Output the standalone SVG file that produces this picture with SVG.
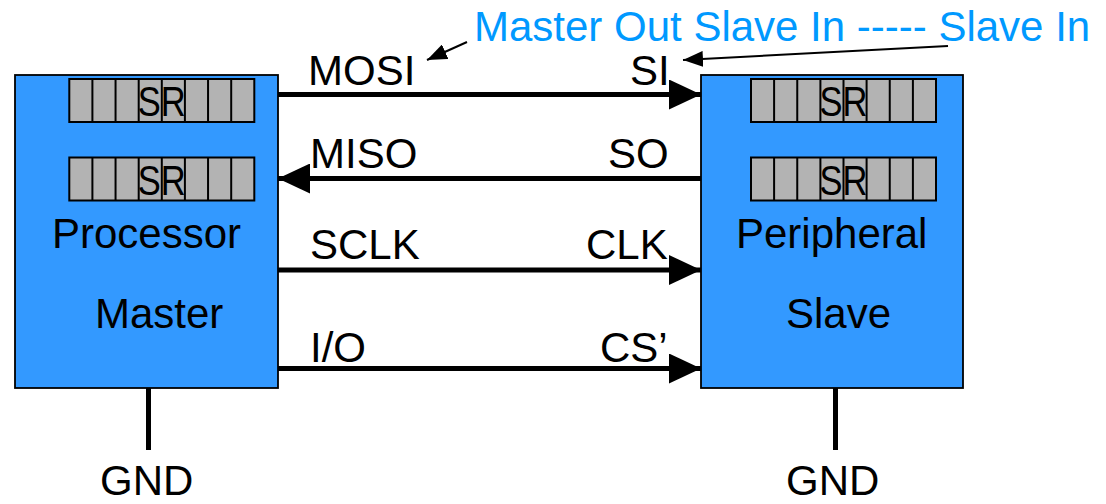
<svg xmlns="http://www.w3.org/2000/svg" xmlns:xlink="http://www.w3.org/1999/xlink" width="1106" height="504" viewBox="0 0 1106 504">
  <style>
    .box { fill: #3399FF; stroke: #000; stroke-width: 1.8; }
    .cell { fill: #B3B3B3; stroke: #000; stroke-width: 2; }
    .div { stroke: #000; stroke-width: 2; }
    .lbl { font-family: "Liberation Sans", Arial, sans-serif; font-size: 42px; fill: #000; }
    .note { font-family: "Liberation Sans", Arial, sans-serif; font-size: 42px; fill: #0099FF; }
    .sr { font-family: "Liberation Sans", Arial, sans-serif; font-size: 42px; fill: #000; }
    .wire { stroke: #000; stroke-width: 5; fill: none; }
    .ptr { stroke: #000; stroke-width: 2; fill: none; }
  </style>
  <defs>
    <marker id="head" markerUnits="userSpaceOnUse" markerWidth="32" markerHeight="30" viewBox="0 0 32 30" refX="32" refY="15" orient="auto">
      <path d="M0,0 L32,15 L0,30 Z" fill="#000"/>
    </marker>
    <marker id="small-head" markerUnits="userSpaceOnUse" markerWidth="20" markerHeight="16" viewBox="0 0 20 16" refX="20" refY="8" orient="auto">
      <path d="M0,0 L20,8 L0,16 Z" fill="#000"/>
    </marker>
    <!-- 8-bit shift register: 185 x 43, eight cells -->
    <g id="sr-reg">
      <rect class="cell" x="0" y="0" width="185" height="43"/>
      <line class="div" x1="23.1" y1="0" x2="23.1" y2="43"/>
      <line class="div" x1="46.25" y1="0" x2="46.25" y2="43"/>
      <line class="div" x1="69.4" y1="0" x2="69.4" y2="43"/>
      <line class="div" x1="92.5" y1="0" x2="92.5" y2="43"/>
      <line class="div" x1="115.6" y1="0" x2="115.6" y2="43"/>
      <line class="div" x1="138.75" y1="0" x2="138.75" y2="43"/>
      <line class="div" x1="161.9" y1="0" x2="161.9" y2="43"/>
      <text class="sr" x="68.5" y="37" textLength="48" lengthAdjust="spacingAndGlyphs">SR</text>
    </g>
  </defs>

  <!-- Master side -->
  <g id="processor">
    <rect class="box" x="15" y="75" width="263" height="313"/>
    <use xlink:href="#sr-reg" x="69.3" y="79"/>
    <use xlink:href="#sr-reg" x="69.3" y="157.5"/>
    <text class="lbl" x="52" y="248">Processor</text>
    <text class="lbl" x="95" y="328">Master</text>
  </g>

  <!-- Slave side -->
  <g id="peripheral">
    <rect class="box" x="701" y="75" width="262" height="313"/>
    <use xlink:href="#sr-reg" x="751" y="79"/>
    <use xlink:href="#sr-reg" x="751" y="157.5"/>
    <text class="lbl" x="736" y="248">Peripheral</text>
    <text class="lbl" x="786" y="328">Slave</text>
  </g>

  <!-- Ground labels -->
  <g id="gnd-master">
    <text class="lbl" x="100" y="495">GND</text>
  </g>
  <g id="gnd-slave">
    <text class="lbl" x="786" y="495">GND</text>
  </g>

  <!-- Annotation -->
  <g id="annotation">
    <text class="note" x="474" y="41">Master Out Slave In ----- Slave In</text>
  </g>

  <!-- Bus lines, ground leads and pointers -->
  <g id="connectors">
    <line class="wire" x1="278" y1="94.5" x2="701" y2="94.5" marker-end="url(#head)"/>
    <line class="wire" x1="701" y1="178.5" x2="278" y2="178.5" marker-end="url(#head)"/>
    <line class="wire" x1="278" y1="270" x2="701" y2="270" marker-end="url(#head)"/>
    <line class="wire" x1="278" y1="368.5" x2="701" y2="368.5" marker-end="url(#head)"/>
    <line class="wire" x1="148.5" y1="388" x2="148.5" y2="450"/>
    <line class="wire" x1="835.5" y1="388" x2="835.5" y2="450"/>
    <line class="ptr" x1="467" y1="42" x2="427" y2="60" marker-end="url(#small-head)"/>
    <line class="ptr" x1="948" y1="46" x2="683" y2="60" marker-end="url(#small-head)"/>

    <text class="lbl" x="308" y="85">MOSI</text>
    <text class="lbl" x="630" y="85">SI</text>
    <text class="lbl" x="310" y="168">MISO</text>
    <text class="lbl" x="608" y="168">SO</text>
    <text class="lbl" x="310" y="259">SCLK</text>
    <text class="lbl" x="586" y="259">CLK</text>
    <text class="lbl" x="310" y="362">I/O</text>
    <text class="lbl" x="600" y="362">CS’</text>
  </g>
</svg>
